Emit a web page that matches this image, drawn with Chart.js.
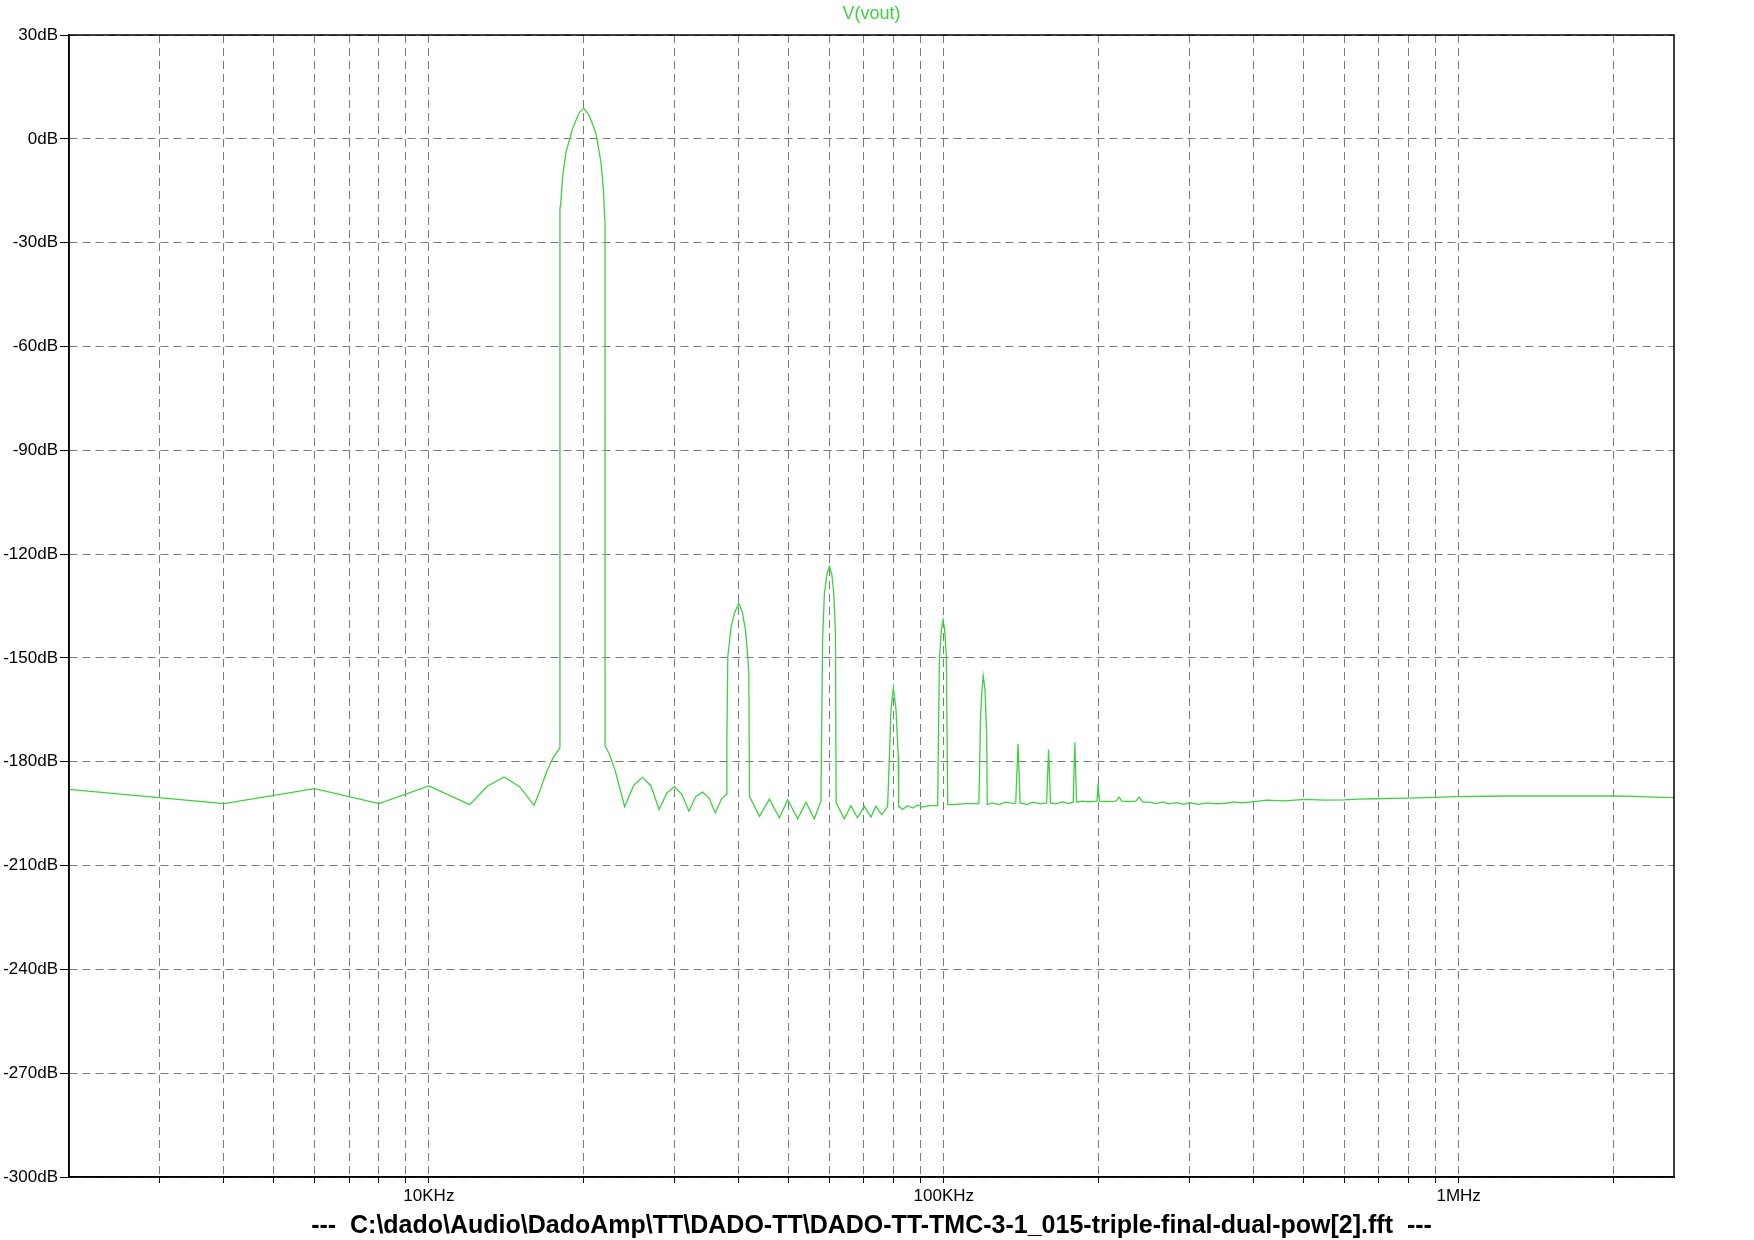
<!DOCTYPE html>
<html>
<head>
<meta charset="utf-8">
<title>V(vout) FFT</title>
<script src="https://cdn.jsdelivr.net/npm/chart.js@4.4.1/dist/chart.umd.min.js"></script>
<style>
  html, body { margin: 0; padding: 0; background: #ffffff; }
  #wrap { width: 1754px; height: 1240px; }
</style>
</head>
<body>
<div id="wrap"><canvas id="fftChart" width="1754" height="1240"></canvas></div>
<script>
// LTspice FFT of V(vout)
const traceName = 'V(vout)';
const fileName = '---  C:\\dado\\Audio\\DadoAmp\\TT\\DADO-TT\\DADO-TT-TMC-3-1_015-triple-final-dual-pow[2].fft  ---';

// frequency (kHz)
const freqKHz = [
    2.0, 4.0, 6.0, 8.0, 10.0, 12.0, 13.0, 14.0, 15.0, 16.0, 16.4, 16.9, 17.4, 17.96,
    17.97, 18.03, 18.19, 18.46, 19.04, 19.59, 20.0, 20.48, 21.1, 21.58, 21.83, 21.98,
    21.99, 22.4, 23.0, 23.5, 24.0, 25.0, 26.0, 27.0, 28.0, 29.0, 30.0, 31.0, 32.0, 33.0,
    34.0, 35.0, 36.0, 37.0, 37.8,
    37.91, 38.07, 38.64, 39.22, 40.0, 40.59, 41.2, 41.63, 41.82, 41.94,
    43.85, 45.85, 47.94, 49.76, 52.04, 54.0, 56.05, 57.74,
    58.17, 58.64, 59.35, 60.0, 60.61, 61.15, 61.61, 61.8,
    64.1, 66.0, 68.0, 70.1, 72.2, 73.8, 75.8, 77.8,
    78.43, 78.98, 79.82, 80.78, 81.57, 81.76,
    83.2, 85.1, 87.1, 89.0, 91.0, 93.8, 97.3,
    98.06, 98.93, 99.7, 100.42, 101.17, 101.8,
    104.1, 110.4, 117.0,
    117.9, 118.66, 119.3, 120.26, 121.18, 121.45,
    124.2, 128.0, 131.9, 136.9, 137.96, 139.41, 140.71,
    145.0, 149.0, 154.0, 158.4, 159.8, 161.2,
    165.0, 170.5, 175.0, 178.4, 179.7, 181.1,
    186.0, 192.0, 198.5, 199.4, 200.6,
    210.0, 216.0, 219.1, 221.7, 230.0, 236.0, 239.7, 243.3, 250.6,
    258, 266, 274, 283, 292, 300.6, 312, 325, 338, 352, 366, 380, 401, 424, 460,
    502, 550, 599, 640, 689, 740, 800, 900, 982, 1240, 1600, 1994, 2200, 2400, 2620
];

// magnitude (dB)
const levelDb = [
    -188.0, -192.1, -187.8, -192.1, -187.0, -192.4, -187.0, -184.4, -187.2, -192.6, -188.7, -183.2, -179.0, -176.0,
    -20.0, -19.0, -10.8, -3.9, 3.2, 7.6, 8.8, 6.8, 1.7, -6.6, -14.9, -24.6,
    -175.5, -177.7, -182.5, -187.8, -193.0, -186.8, -184.5, -187.0, -193.8, -189.0, -187.2, -189.5, -194.3, -190.0,
    -188.8, -190.5, -194.8, -190.8, -189.5,
    -173.6, -149.6, -141.0, -137.1, -134.2, -136.6, -141.9, -149.6, -154.4, -190.0,
    -195.8, -190.8, -196.2, -191.0, -196.5, -191.7, -196.5, -191.4,
    -144.8, -131.3, -125.5, -123.6, -125.8, -131.3, -142.8, -191.9,
    -196.5, -192.7, -196.2, -192.9, -196.0, -192.9, -195.3, -192.9,
    -178.5, -165.0, -158.7, -165.0, -178.5, -192.9,
    -193.8, -192.7, -193.4, -192.5, -193.1, -192.7, -192.7,
    -150.6, -141.9, -139.0, -141.9, -149.6, -192.4,
    -192.4, -192.1, -192.1,
    -166.9, -159.2, -155.2, -159.2, -172.7, -192.4,
    -191.9, -192.4, -191.7, -192.1, -191.9, -174.8, -191.9,
    -192.4, -191.7, -192.2, -191.9, -176.5, -191.9,
    -192.2, -191.6, -192.1, -191.7, -174.4, -191.7,
    -191.4, -191.6, -191.4, -186.2, -191.4,
    -191.5, -191.4, -190.2, -191.4, -191.5, -191.4, -190.2, -191.7, -191.7,
    -192.1, -191.6, -192.2, -191.8, -192.3, -191.8, -192.3, -191.9, -192.2, -192.0, -191.6, -191.9, -191.5, -191.1, -191.3,
    -190.9, -191.1, -191.0, -190.8, -190.7, -190.6, -190.5, -190.3, -190.1, -189.9, -189.9, -189.9, -190.0, -190.2, -190.4
];

// log axis grid (Hz) and the few labelled decades
const freqGrid = [
    3000, 4000, 5000, 6000, 7000, 8000, 9000,
    10000, 20000, 30000, 40000, 50000, 60000, 70000, 80000, 90000,
    100000, 200000, 300000, 400000, 500000, 600000, 700000, 800000, 900000,
    1000000, 2000000
];
const freqLabels = { 10000: '10KHz', 100000: '100KHz', 1000000: '1MHz' };
const freqRange = [2000, 2620000];
const dbRange = [-300, 30];
const dbStep = 30;

const traceColor = '#3fd03f';

// box round the plot area (LTspice draws a full frame)
const frameBox = {
    id: 'frameBox',
    afterDraw(chart) {
        const a = chart.chartArea;
        const ctx = chart.ctx;
        ctx.save();
        ctx.strokeStyle = '#000';
        ctx.lineWidth = 1.5;
        ctx.strokeRect(a.left, a.top, a.right - a.left, a.bottom - a.top);
        ctx.restore();
    }
};

const ctx = document.getElementById('fftChart').getContext('2d');
window.fftChart = new Chart(ctx, {
    type: 'line',
    data: {
        datasets: [{
            label: traceName,
            data: freqKHz.map((f, i) => ({ x: f * 1000, y: levelDb[i] })),
            borderColor: traceColor,
            borderWidth: 1.3,
            pointRadius: 0,
            tension: 0,
            fill: false
        }]
    },
    options: {
        responsive: false,
        animation: false,
        devicePixelRatio: 1,
        layout: {
            padding: { top: 4, left: 0, right: 80, bottom: 1 }
        },
        plugins: {
            legend: { display: false },
            tooltip: { enabled: false },
            title: {
                display: true,
                text: traceName,
                color: traceColor,
                fullSize: false,
                font: { family: 'Liberation Sans, Arial, sans-serif', size: 18, weight: 'normal', lineHeight: 1.0 },
                padding: { top: 1, bottom: 12 }
            },
            subtitle: {
                display: true,
                position: 'bottom',
                text: fileName,
                color: '#000',
                fullSize: false,
                font: { family: 'Liberation Sans, Arial, sans-serif', size: 25, weight: 'bold', lineHeight: 1.0 },
                padding: 0
            }
        },
        scales: {
            x: {
                type: 'logarithmic',
                min: freqRange[0],
                max: freqRange[1],
                afterBuildTicks: function(scale) {
                    scale.ticks = freqGrid.map(v => ({ value: v }));
                },
                afterFit: function(scale) {
                    scale.height = 37;
                },
                ticks: {
                    autoSkip: false,
                    maxRotation: 0,
                    padding: 3,
                    color: '#000',
                    font: { family: 'Liberation Sans, Arial, sans-serif', size: 17 },
                    callback: function(value) {
                        return freqLabels[value] || '';
                    }
                },
                grid: {
                    color: '#7a7a7a',
                    lineWidth: 1,
                    tickLength: 6,
                    tickColor: '#000'
                },
                border: {
                    display: true,
                    color: '#000',
                    width: 1.5,
                    dash: [8, 5]
                }
            },
            y: {
                type: 'linear',
                min: dbRange[0],
                max: dbRange[1],
                afterFit: function(scale) {
                    scale.width = 69;
                },
                ticks: {
                    stepSize: dbStep,
                    padding: 2,
                    color: '#000',
                    font: { family: 'Liberation Sans, Arial, sans-serif', size: 17 },
                    callback: function(value) {
                        return value + 'dB';
                    }
                },
                grid: {
                    color: '#7a7a7a',
                    lineWidth: 1,
                    tickLength: 9,
                    tickColor: '#000'
                },
                border: {
                    display: true,
                    color: '#000',
                    width: 1.5,
                    dash: [8, 5]
                }
            }
        }
    },
    plugins: [frameBox]
});
</script>
</body>
</html>
